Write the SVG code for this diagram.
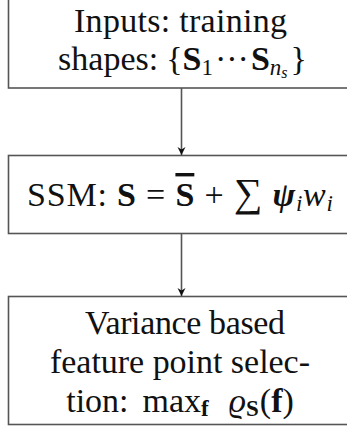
<svg xmlns="http://www.w3.org/2000/svg" width="347" height="427" viewBox="0 0 347 427">
<style>
.box{fill:#fff;stroke:#555;stroke-width:1.6}
.t{font-family:"Liberation Serif","DejaVu Serif",serif;font-size:34px;fill:#111}
.m{text-anchor:middle}
.b{font-weight:bold}
.i{font-style:italic}
.bi{font-weight:bold;font-style:italic}
.sub{font-size:23px}
.edge{stroke:#555;stroke-width:1.6;fill:none}
</style>
<rect width="347" height="427" fill="#fff"/>
<g id="n1">
<rect class="box" x="8.5" y="-5" width="350" height="93"/>
<text class="t" x="74" y="32" textLength="213" lengthAdjust="spacing">Inputs:  training</text>
<text class="t m" x="182.5" y="70">shapes:<tspan dx="8">{</tspan><tspan class="b">S</tspan><tspan class="sub" dy="5">1</tspan><tspan dy="-5" dx="2">···</tspan><tspan class="b" dx="2">S</tspan><tspan class="sub i" dy="5">n</tspan><tspan class="i" font-size="16" dy="3">s</tspan><tspan dy="-8" dx="3">}</tspan></text>
</g>
<g id="n2">
<rect class="box" x="8.5" y="155.5" width="350" height="78"/>
<text class="t" x="27" y="206" textLength="306" lengthAdjust="spacing">SSM: <tspan class="b">S</tspan> = <tspan class="b" text-decoration="overline">S</tspan> + <tspan font-size="40">∑</tspan> <tspan class="bi">ψ</tspan><tspan class="sub i" dy="5">i</tspan><tspan class="i" dy="-5">w</tspan><tspan class="sub i" dy="5">i</tspan></text>
</g>
<g id="n3">
<rect class="box" x="8.5" y="296.5" width="350" height="128"/>
<text class="t" x="85" y="334" textLength="200" lengthAdjust="spacing">Variance based</text>
<text class="t" x="50" y="373" textLength="260" lengthAdjust="spacing">feature point selec-</text>
<text class="t m" x="180" y="412">tion:<tspan dx="14">max</tspan><tspan class="sub b" dy="4">f</tspan><tspan dy="-4" dx="20" class="i">ϱ</tspan><tspan class="sub b" dy="4">S</tspan><tspan dy="-4" dx="1">(</tspan><tspan class="b">f</tspan>)</text>
</g>
<g id="connectors">
<line class="edge" x1="181.5" y1="88" x2="181.5" y2="155"/>
<line class="edge" x1="181.5" y1="233.5" x2="181.5" y2="296"/>
<path d="M177.5,147 L181.5,155 L185.5,147 L181.5,149.5 Z" fill="#111"/>
<path d="M177.5,288 L181.5,296 L185.5,288 L181.5,290.5 Z" fill="#111"/>
</g>
</svg>
